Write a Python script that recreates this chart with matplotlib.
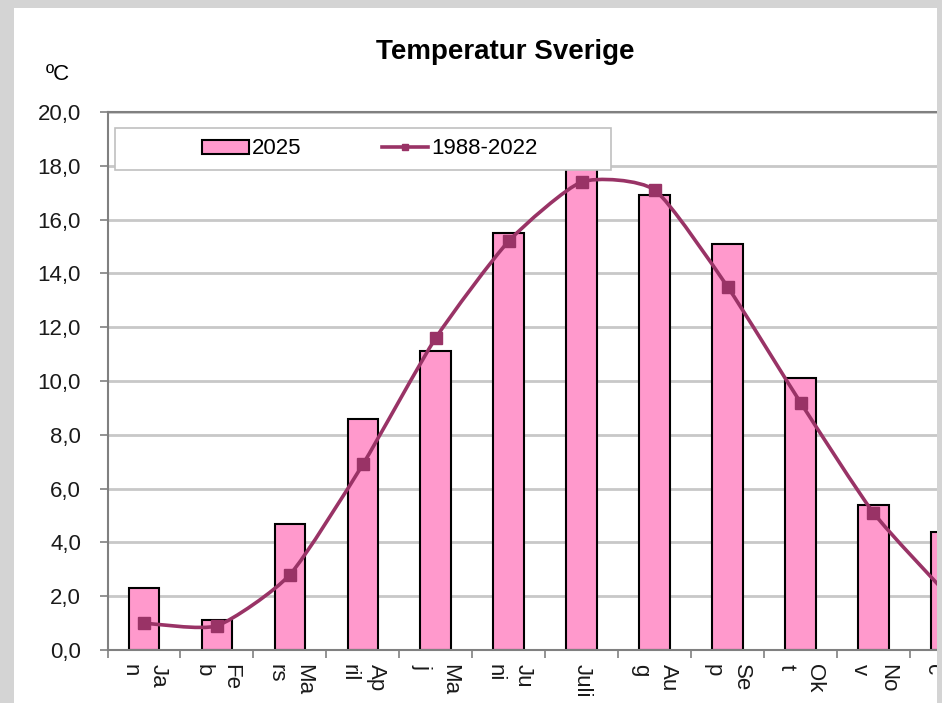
import numpy as np
import matplotlib
matplotlib.use('Agg')
import matplotlib.pyplot as plt
from matplotlib.patches import Rectangle, PathPatch
from matplotlib.path import Path
from matplotlib.lines import Line2D
from matplotlib.ticker import FuncFormatter

plt.rcParams['font.family'] = ['Liberation Sans', 'DejaVu Sans']

# data
months = ['Ja\nn', 'Fe\nb', 'Ma\nrs', 'Ap\nril', 'Ma\nj', 'Ju\nni',
          'Juli', 'Au\ng', 'Se\np', 'Ok\nt', 'No\nv', 'De\nc']
temp_2025 = [2.3, 1.1, 4.7, 8.6, 11.1, 15.5, 18.1, 16.9, 15.1, 10.1, 5.4, 4.4]
temp_normal = [1.0, 0.9, 2.8, 6.9, 11.6, 15.2, 17.4, 17.1, 13.5, 9.2, 5.1, 2.1]
y_ticks = [0, 2, 4, 6, 8, 10, 12, 14, 16, 18, 20]

pink = '#ff99cc'
plum = '#993366'
frame_gray = '#d4d4d4'

W, H = 942, 703
fig = plt.figure(figsize=(W / 100, H / 100), dpi=100, facecolor=frame_gray)

# white chart area inside the grey screenshot border
fig.add_artist(Rectangle((14 / W, 0), (937 - 14) / W, (H - 8) / H,
                         transform=fig.transFigure, facecolor='white',
                         edgecolor='none', zorder=-10))

# plot area (runs past the right edge of the screenshot)
ax = fig.add_axes([107.5 / W, 53 / H, 875.4 / W, 538 / H])

x = np.arange(len(months))
ax.bar(x, temp_2025, width=0.42, color=pink, edgecolor='black',
       linewidth=1.5, zorder=2)

# smoothed line as a bezier path through the points (gentle tension)
pts = np.column_stack([x, temp_normal]).astype(float)
verts = [pts[0]]
codes = [Path.MOVETO]
for i in range(len(pts) - 1):
    p_prev = pts[i - 1] if i > 0 else pts[i]
    p_next = pts[i + 2] if i + 2 < len(pts) else pts[i + 1]
    verts += [pts[i] + (pts[i + 1] - p_prev) / 10,
              pts[i + 1] - (p_next - pts[i]) / 10,
              pts[i + 1]]
    codes += [Path.CURVE4] * 3
ax.add_patch(PathPatch(Path(verts, codes), fill=False, edgecolor=plum,
                       linewidth=2.6, zorder=3))
ax.plot(x, temp_normal, linestyle='none', marker='s', markersize=8,
        color=plum, zorder=4)

ax.set_xlim(-0.5, len(months) - 0.5)
ax.set_ylim(0, 20)

ax.set_yticks(y_ticks)
ax.yaxis.set_major_formatter(FuncFormatter(lambda v, p: f'{v:.1f}'.replace('.', ',')))
ax.tick_params(axis='y', length=6, width=1.2, color='#808080', pad=13,
               labelsize=16, labelcolor='#1a1a1a')
ax.yaxis.grid(True, color='#c8c8c8', linewidth=2)
ax.set_axisbelow(True)

ax.set_xticks(x)
ax.set_xticklabels(months, rotation=-90, ha='center', va='top',
                   multialignment='left', linespacing=1.45,
                   fontsize=16, color='#1a1a1a')
ax.set_xticks(np.arange(-0.5, len(months), 1), minor=True)
ax.tick_params(axis='x', which='major', length=0, pad=10)
ax.tick_params(axis='x', which='minor', length=6, width=1.2, color='#808080')

for s in ax.spines.values():
    s.set_color('#808080')
    s.set_linewidth(1.5)

# title and unit
fig.text(505 / W, 1 - 52 / H, 'Temperatur Sverige', ha='center', va='center',
         fontsize=20, fontweight='bold')
fig.text(58 / W, 1 - 75 / H, 'ºC', ha='center', va='center', fontsize=16)

# legend box
fig.add_artist(Rectangle((115 / W, 1 - 170 / H), 496 / W, 42 / H,
                         transform=fig.transFigure, facecolor='white',
                         edgecolor='#c0c0c0', linewidth=1.2, zorder=4))
handles = [Rectangle((0, 0), 1, 1, facecolor=pink, edgecolor='black', linewidth=1.5),
           Line2D([], [], color=plum, linewidth=2.6, marker='s', markersize=5)]
fig.legend(handles, ['2025', '1988-2022'], loc='center',
           bbox_to_anchor=(370 / W, 1 - 149 / H), ncol=2, frameon=False,
           fontsize=16, handlelength=2.1, handleheight=0.6, handletextpad=0.15,
           columnspacing=3.6)

# grey strip on the right edge of the screenshot
fig.add_artist(Rectangle((937 / W, 0), 5 / W, 1, transform=fig.transFigure,
                         facecolor=frame_gray, edgecolor='none', zorder=10))

fig.savefig('out.png', dpi=100)
